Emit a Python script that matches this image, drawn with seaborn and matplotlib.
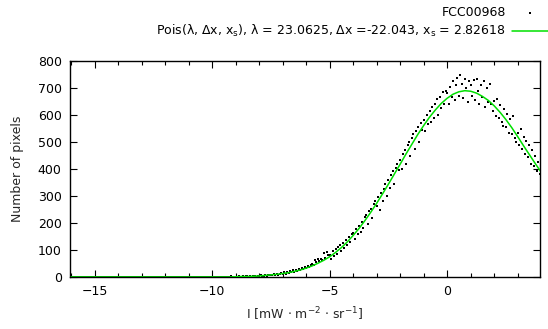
import numpy as np
import pandas as pd
import matplotlib
matplotlib.use('Agg')
import matplotlib.pyplot as plt
import seaborn as sns

# measured counts, one per bin of 0.0625 from -16 to 4
counts = [
    0, 0, 0, 0, 0, 0, 0, 0, 0, 0, 0, 0, 0, 0, 0, 0,
    0, 0, 0, 0, 0, 0, 0, 0, 0, 0, 0, 0, 0, 0, 0, 0,
    0, 0, 0, 0, 0, 0, 0, 0, 0, 0, 0, 0, 0, 0, 0, 0,
    0, 0, 0, 0, 0, 0, 0, 0, 0, 0, 0, 0, 0, 0, 0, 0,
    0, 0, 0, 0, 0, 0, 0, 0, 0, 0, 0, 0, 0, 0, 0, 0,
    0, 0, 0, 0, 0, 0, 0, 0, 0, 0, 0, 0, 0, 0, 0, 0,
    0, 0, 1, 0, 0, 0, 1, 0, 0, 0, 0, 1, 0, 2, 0, 1,
    1, 0, 2, 1, 0, 3, 1, 2, 2, 0, 3, 1, 4, 2, 1, 3,
    4, 6, 3, 5, 7, 4, 8, 6, 9, 7, 10, 8, 12, 9, 11, 14,
    12, 17, 13, 19, 16, 21, 18, 25, 20, 27, 24, 30, 26, 34, 29, 38,
    35, 42, 36, 46, 50, 44, 62, 55, 66, 58, 68, 63, 88, 72, 94, 80,
    80, 66, 95, 78, 104, 86, 110, 118, 96, 126, 108, 136, 118, 148, 130, 160,
    162, 140, 178, 158, 190, 168, 205, 180, 222, 230, 198, 245, 252, 220, 270, 280,
    262, 295, 250, 312, 280, 325, 345, 300, 360, 330, 378, 392, 345, 405, 420, 398,
    435, 400, 455, 470, 420, 488, 500, 450, 515, 530, 475, 540, 556, 500, 570, 545,
    580, 540, 600, 565, 615, 575, 628, 590, 640, 660, 600, 668, 625, 684, 640, 690,
    680, 640, 705, 665, 725, 655, 712, 738, 670, 748, 715, 662, 735, 700, 650, 725,
    712, 670, 728, 655, 735, 688, 640, 712, 665, 725, 628, 700, 650, 715, 640, 615,
    652, 598, 660, 588, 636, 575, 558, 622, 555, 605, 535, 585, 528, 595, 515, 500,
    535, 488, 548, 475, 520, 455, 505, 445, 490, 420, 470, 410, 448, 392, 425, 380,
    392,
]
bin_x = np.linspace(-16, 4, len(counts))

# Poisson fit, sampled every 0.25 from -16 to 4
fit_y = [
    0, 0, 0, 0, 0, 0, 0, 0, 0, 0, 0, 0, 0, 0,
    0, 0, 0, 0, 0, 0, 0, 0, 0, 0, 0, 0, 0, 0,
    1, 2, 2, 3, 4, 6, 8, 10, 13, 16, 21, 26, 33, 41, 51, 62,
    75, 91, 109, 130, 154, 180, 209, 240, 273, 308, 344, 381,
    418, 456, 492, 528, 561, 592, 619, 643, 662, 677, 686, 690,
    688, 681, 669, 654, 634, 610, 583, 553, 520, 486, 453, 420, 388,
]
fit_x = np.linspace(-16, 4, len(fit_y))

data_label = 'FCC00968'
fit_label = (r'Pois($\lambda$, $\Delta$x, x$_\mathrm{s}$), $\lambda$ = 23.0625, '
             r'$\Delta$x =-22.043, x$_\mathrm{s}$ = 2.82618')

df = pd.DataFrame({'I': bin_x, 'n': counts})
fit = pd.DataFrame({'I': fit_x, 'n': fit_y})

sns.set_style('ticks')
plt.rcParams['font.family'] = ['DejaVu Sans']
plt.rcParams['mathtext.default'] = 'regular'
plt.rcParams['text.color'] = 'black'

fig = plt.figure(figsize=(5.48, 3.29), dpi=100)
ax = fig.add_axes([0.1277, 0.158, 0.8577, 0.6566])

sns.scatterplot(data=df, x='I', y='n', ax=ax, color='black', marker='s',
                s=3.5, linewidth=0, label=data_label, zorder=2)
sns.lineplot(data=fit, x='I', y='n', ax=ax, color='#00e000', linewidth=1.1,
             label=fit_label, zorder=3)

ax.set_xlim(-16.05, 3.95)
ax.set_ylim(0, 800)
ax.set_xticks([-15, -10, -5, 0])
ax.set_xticks(np.arange(-16, 4), minor=True)
ax.set_yticks(np.arange(0, 801, 100))
ax.tick_params(which='both', direction='in', top=True, right=True,
               labelsize=9, colors='black', width=0.8)
ax.tick_params(which='major', length=5, pad=6)
ax.tick_params(which='minor', length=3)
for sp in ax.spines.values():
    sp.set_visible(True)
    sp.set_color('black')
    sp.set_linewidth(1.0)

ax.set_xlabel(r'I [mW $\cdot$ m$^{-2}$ $\cdot$ sr$^{-1}$]', fontsize=9, labelpad=5)
ax.set_ylabel('Number of pixels', fontsize=9, labelpad=10)

handles, labels = ax.get_legend_handles_labels()
ax.get_legend().remove()
leg1 = ax.legend(handles=[handles[0]], labels=[labels[0]], loc='upper right',
                 bbox_to_anchor=(1.017, 1.008), bbox_transform=fig.transFigure,
                 frameon=False, markerfirst=False, fontsize=9, scatterpoints=1,
                 handlelength=2.9, borderpad=0.2, handletextpad=0.5,
                 labelcolor='black')
ax.add_artist(leg1)
ax.legend(handles=[handles[1]], labels=[labels[1]], loc='upper right',
          bbox_to_anchor=(1.017, 0.956), bbox_transform=fig.transFigure,
          frameon=False, markerfirst=False, fontsize=9,
          handlelength=2.9, borderpad=0.2, handletextpad=0.5,
          labelcolor='black')

fig.savefig('out.png', dpi=100)
